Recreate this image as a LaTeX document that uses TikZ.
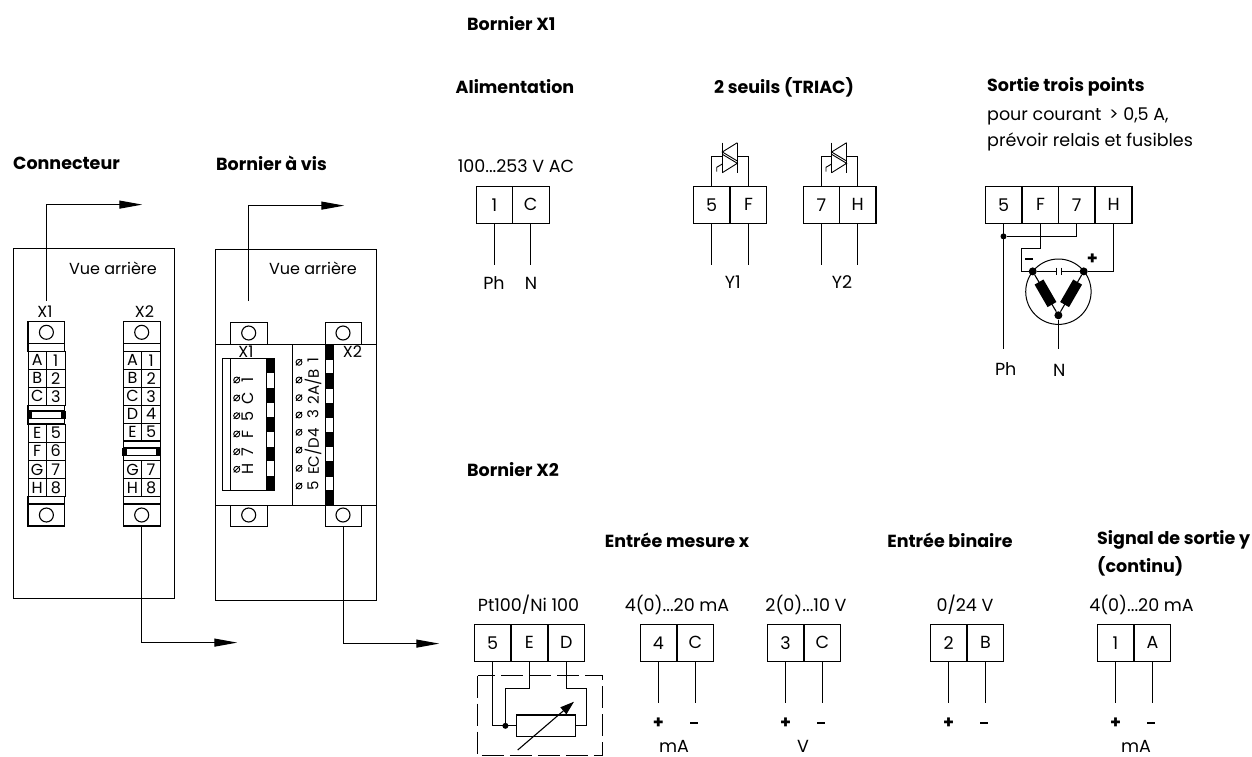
\documentclass[tikz,border=0pt]{standalone}
\usepackage{fontspec}
\setmainfont{Poppins}
\usetikzlibrary{arrows.meta}
\newcommand{\fsn}{\fontsize{17.5}{19}\selectfont}
\newcommand{\fsb}{\fontsize{17.5}{19}\selectfont\bfseries}
\newcommand{\fss}{\fontsize{16}{16}\selectfont}
\newcommand{\fst}{\fontsize{15}{15}\selectfont}
\tikzset{
	wire/.style={line width=1.1pt},
	cell/.style={draw,line width=1.1pt,minimum width=36.7pt,minimum height=37pt,inner sep=0pt,font=\fsn},
	rowcell/.style={draw,line width=1pt,minimum width=18.4pt,minimum height=18pt,inner sep=0pt,font=\fss},
	txt/.style={inner sep=0pt,font=\fsn},
	vuetxt/.style={inner sep=0pt,font=\fss},
	head/.style={inner sep=0pt,font=\fsb},
	lug/.style={draw,line width=1.1pt,circle,minimum size=14pt,inner sep=0pt},
	outarrow/.style={wire,-{Triangle[length=23pt,width=8pt]}},
	blob/.style={circle,fill=black,inner sep=0pt,minimum size=#1},
	blob/.default=8pt
}
\begin{document}
\begin{tikzpicture}[x=1pt,y=-1pt,line join=miter]
	\useasboundingbox (0,0) rectangle (1252,756);
	\node[head,anchor=west] (hbx1) at (467,24) {Bornier X1};
	\node[head] (halim) at (515,87) {Alimentation};
	\node[head] (htriac) at (784,87) {2 seuils (TRIAC)};
	\node[head,anchor=west] (hsortie) at (987,87) {Sortie trois points};
	\node[txt,anchor=west] (n1) at (987,116) {pour courant \,> 0,5 A,};
	\node[txt,anchor=west] (n2) at (987,142) {prévoir relais et fusibles};
	\node[head,anchor=west] (hconn) at (13,163) {Connecteur};
	\node[head,anchor=west] (hvis) at (216,163) {Bornier à vis};
	\node[head,anchor=west] (hbx2) at (467,470) {Bornier X2};
	\node[head] (hmes) at (677,540) {Entrée mesure x};
	\node[head] (hbin) at (950,540) {Entrée binaire};
	\node[head,anchor=west] (hsig) at (1097,540) {Signal de sortie y};
	\node[head,anchor=west] (hcont) at (1097,566) {(continu)};

	\draw[wire] (13.7,248.4) rectangle (174.4,598.6);
	\draw[wire] (215.6,249.4) rectangle (376.6,600.4);
	\node[vuetxt] (vue1) at (113,268) {Vue arrière};
	\node[vuetxt] (vue2) at (313,268) {Vue arrière};

	\foreach \n/\x in {ca/28,cb/123.3}{
		\draw[wire] (\x,321.3) rectangle (\x+36.8,343.3);
		\draw[wire] (\x,343.3) rectangle (\x+36.8,351.3);
		\node[lug] (\n top) at (\x+18.4,332.3) {};
		\draw[wire] (\x,496.7) rectangle (\x+36.8,504);
		\draw[wire] (\x,504) rectangle (\x+36.8,526);
		\node[lug] (\n bot) at (\x+18.4,515) {};
	}
	\node[vuetxt] (lx1) at (45,312) {X1};
	\node[vuetxt] (lx2) at (144.5,312) {X2};
	\foreach \a/\b/\y in {A/1/360.3,B/2/378.3,C/3/396.3,E/5/433,F/6/451,G/7/469.5,H/8/487.6}{
		\node[rowcell] at (37.2,\y) {\a};
		\node[rowcell] at (55.8,\y) {\b};
	}
	\foreach \a/\b/\y in {A/1/360.3,B/2/378.3,C/3/396.3,D/4/414,E/5/432,G/7/469.5,H/8/487.6}{
		\node[rowcell] at (132.5,\y) {\a};
		\node[rowcell] at (151.1,\y) {\b};
	}
	\draw[wire] (28,405.3) rectangle (64.8,424);
	\draw[wire] (123.3,441) rectangle (160.1,460.6);
	\foreach \x/\y in {28/411,123.3/448}{
		\draw[wire] (\x,\y) rectangle (\x+36.8,\y+7.5);
		\fill (\x-1,\y-.5) rectangle (\x+4,\y+8);
		\fill (\x+32.8,\y-.5) rectangle (\x+37.8,\y+8);
	}

	\draw[wire] (215.6,344.4) -- (376.6,344.4);
	\draw[wire] (215.6,505.4) -- (376.6,505.4);
	\draw[wire] (292.4,344.4) -- (292.4,505.4);
	\foreach \n/\x/\y in {vs/248.7/333,vt/343/333,vu/248.7/515,vv/343/515}{
		\node[lug] (\n) at (\x,\y) {};
	}
	\draw[wire] (230.4,344.4) |- (267.4,322.4) -- (267.4,344.4);
	\draw[wire] (325.4,344.4) |- (361.4,322.4) -- (361.4,344.4);
	\draw[wire] (230.4,505.4) |- (267.4,526.6) -- (267.4,505.4);
	\draw[wire] (325.4,505.4) |- (361.4,526.6) -- (361.4,505.4);
	\node[vuetxt] (lv1) at (246,352) {X1};
	\node[vuetxt] (lv2) at (352.5,352) {X2};
	\draw[wire] (222.6,358.6) rectangle (274.4,490.4);
	\draw[wire] (230.4,358.6) -- (230.4,490.4);
	\draw[wire] (325.4,344.4) rectangle (333.4,505.4);
	\draw[wire] (266.4,358.6) rectangle (274.4,490.4);
	\foreach \a/\b in {344/360,372.7/389.3,402.7/418.3,431.7/446.7,461/476.7,490/505.4}{
		\fill (325.4,\a) rectangle (333.4,\b);
	}
	\foreach \a/\b in {358.7/373.3,388.3/402.7,417.3/431.7,446.7/461,475.7/490.3}{
		\fill (266.4,\a) rectangle (274.4,\b);
	}
	\foreach \y in {380,398,415.7,434,451.7,469.3}{
		\draw[line width=.9pt] (236.7,\y) circle (3pt);
		\draw[line width=.9pt] (233.7,\y+3) -- (239.7,\y-3);
	}
	\foreach \y in {362.3,380,397.7,415,432.3,450,468.3,486}{
		\draw[line width=.9pt] (299,\y) circle (3pt);
		\draw[line width=.9pt] (296,\y+3) -- (302,\y-3);
	}
	\foreach \lbl/\y in {1/380,C/398,5/416,F/434,7/452,H/469}{
		\node[vuetxt,rotate=90] at (248,\y) {\lbl};
	}
	\foreach \lbl/\y in {1/360,{2A/B}/386.5,3/414,{EC/D4}/451.5,5/486}{
		\node[inner sep=0pt,font=\fst,rotate=90] at (313,\y) {\lbl};
	}

	\coordinate (up1) at (46.5,204.6);
	\coordinate (to1) at (142.3,204.6);
	\coordinate (st1) at (46.5,300.7);
	\draw[outarrow] (st1) -- (up1) -- (to1);
	\coordinate (up2) at (248.6,205.6);
	\coordinate (to2) at (344.3,205.6);
	\coordinate (st2) at (248.6,301);
	\draw[outarrow] (st2) -- (up2) -- (to2);
	\coordinate (dn1) at (141.6,642.6);
	\coordinate (to3) at (237.3,642.6);
	\coordinate (st3) at (141.6,526);
	\draw[outarrow] (st3) -- (dn1) -- (to3);
	\coordinate (dn2) at (343.4,643.6);
	\coordinate (to4) at (439.3,643.6);
	\coordinate (st4) at (343.4,526.7);
	\draw[outarrow] (st4) -- (dn2) -- (to4);

	\foreach \n/\lbl/\x/\y in {
		a1/1/494.4/204.7,aC/C/530.7/204.7,
		b5/5/711.6/204.7,bF/F/748.4/204.7,b7/7/821.4/204.7,bH/H/857.6/204.7,
		s5/5/1003.5/204.7,sF/F/1040.4/204.7,s7/7/1076.6/204.7,sH/H/1113.6/204.7,
		p5/5/492.6/642.8,pE/E/529.4/642.8,pD/D/566.4/642.8,
		m4/4/658.4/642.8,mC/C/695.4/642.8,
		v3/3/785.4/642.8,vC/C/822.4/642.8,
		d2/2/948.6/642.8,dB/B/985.4/642.8,
		o1/1/1115.4/642.8,oA/A/1152.4/642.8}{
		\node[cell] (\n) at (\x,\y) {\lbl};
	}

	\foreach \n in {a1,aC,b5,bF,b7,bH}{
		\coordinate (\n e) at (\n.south |- 0,265);
		\draw[wire] (\n.south) -- (\n e);
	}
	\foreach \n in {m4,mC,v3,vC,d2,dB,o1,oA}{
		\coordinate (\n e) at (\n.south |- 0,703.3);
		\draw[wire] (\n.south) -- (\n e);
	}

	\node[txt] (l100) at (516,166) {100...253 V AC};
	\node[txt] (lph) at (494,283) {Ph};
	\node[txt] (ln) at (531,283) {N};
	\node[txt] (ly1) at (732.7,282) {Y1};
	\node[txt] (ly2) at (842,282) {Y2};

	\foreach \s/\p/\q in {0/b5/bF,109.3/b7/bH}{
		\begin{scope}[xshift=\s]
			\coordinate (tl\p) at (722.3,156.6);
			\coordinate (tr\p) at (737.3,156.6);
			\draw[line width=.9pt] (722.3,142.7) -- (722.3,172.7);
			\draw[line width=.9pt] (737.3,142.7) -- (737.3,172.7);
			\draw[line width=.9pt] (737.3,142.7) -- (722.3,152) -- (737.3,161);
			\draw[line width=.9pt] (722.3,154.3) -- (737.3,163.3) -- (722.3,172.7);
			\draw[line width=.9pt] (722.3,164) -- (716.7,167.3) -- (716.7,171.7);
		\end{scope}
		\draw[wire] (\p.north) |- (tl\p);
		\draw[wire] (\q.north) |- (tr\p);
	}

	\coordinate (phe) at (1003.5,349.3);
	\coordinate (ne) at (1058.4,349.3);
	\node[blob=6pt] (dph) at (1003.5,236.4) {};
	\node[blob] (dl) at (1032.7,271.4) {};
	\node[blob] (dr) at (1083.7,271.4) {};
	\node[blob] (db) at (1058.4,315.3) {};
	\draw[wire] (s5.south) -- (phe);
	\draw[wire] (s7.south) |- (dph);
	\draw[wire] (sF.south) |- (1021.6,248.4) |- (dl);
	\draw[wire] (sH.south) |- (dr);
	\draw[line width=1pt] (1058.4,291.7) circle (32.7pt);
	\draw[wire] (db) -- (ne);
	\coordinate (cpl) at (1056,271.4);
	\coordinate (cpr) at (1061.7,271.4);
	\draw[wire] (dl) -- (cpl);
	\draw[wire] (dr) -- (cpr);
	\draw[line width=1pt] (1056,267.5) -- (1056,275);
	\draw[line width=1pt] (1061.7,267.5) -- (1061.7,275);
	\draw[wire] (dl) -- (db) -- (dr);
	\foreach \x/\r in {1045.5/-60,1071.1/60}{
		\fill[rotate around={\r:(\x,293.3)}] (\x-13,288.2) rectangle (\x+13,298.4);
	}
	\node[inner sep=0pt] (mn) at (1029.3,259) {\rule{8pt}{1.8pt}};
	\node[font=\fsb,inner sep=0pt] (pl) at (1092.3,259) {+};
	\node[txt] (lph2) at (1005.7,369) {Ph};
	\node[txt] (ln2) at (1059.3,370) {N};

	\node[txt] (lpt) at (528.5,605) {Pt100/Ni 100};
	\node[txt] (lma) at (677,605) {4(0)...20 mA};
	\node[txt] (lv) at (806,605) {2(0)...10 V};
	\node[txt] (l24) at (965,605) {0/24 V};
	\node[txt] (lsig) at (1141.5,605) {4(0)...20 mA};
	\node[txt,anchor=base] (uma) at (674,752) {mA};
	\node[txt,anchor=base] (uv) at (803,752) {V};
	\node[txt,anchor=base] (uso) at (1136,752) {mA};
	\foreach \x in {658.4,785.6,948.7,1115.5}{
		\node[font=\fsb,inner sep=0pt] at (\x,723) {+};
	}
	\foreach \x in {694,821,984,1151}{
		\node[inner sep=0pt] at (\x,723) {\rule{8pt}{1.8pt}};
	}

	\draw[dash pattern=on 22pt off 6pt,line width=1pt] (477.6,675.6) rectangle (602.4,755.3);
	\node[draw,line width=1.1pt,minimum width=58.6pt,minimum height=21.7pt,inner sep=0pt] (rt) at (546,725.8) {};
	\node[blob=6pt] (dr2) at (505.4,725.8) {};
	\draw[wire] (p5.south) |- (rt.west);
	\draw[wire] (pE.south) |- (505.4,688.4) -- (dr2);
	\draw[wire] (pD.south) |- (586.6,688.4) |- (rt.east);
	\coordinate (ar1) at (517.7,750);
	\coordinate (ar2) at (574,701.7);
	\draw[wire,-{Triangle[length=14pt,width=9pt]}] (ar1) -- (ar2);
\end{tikzpicture}
\end{document}
